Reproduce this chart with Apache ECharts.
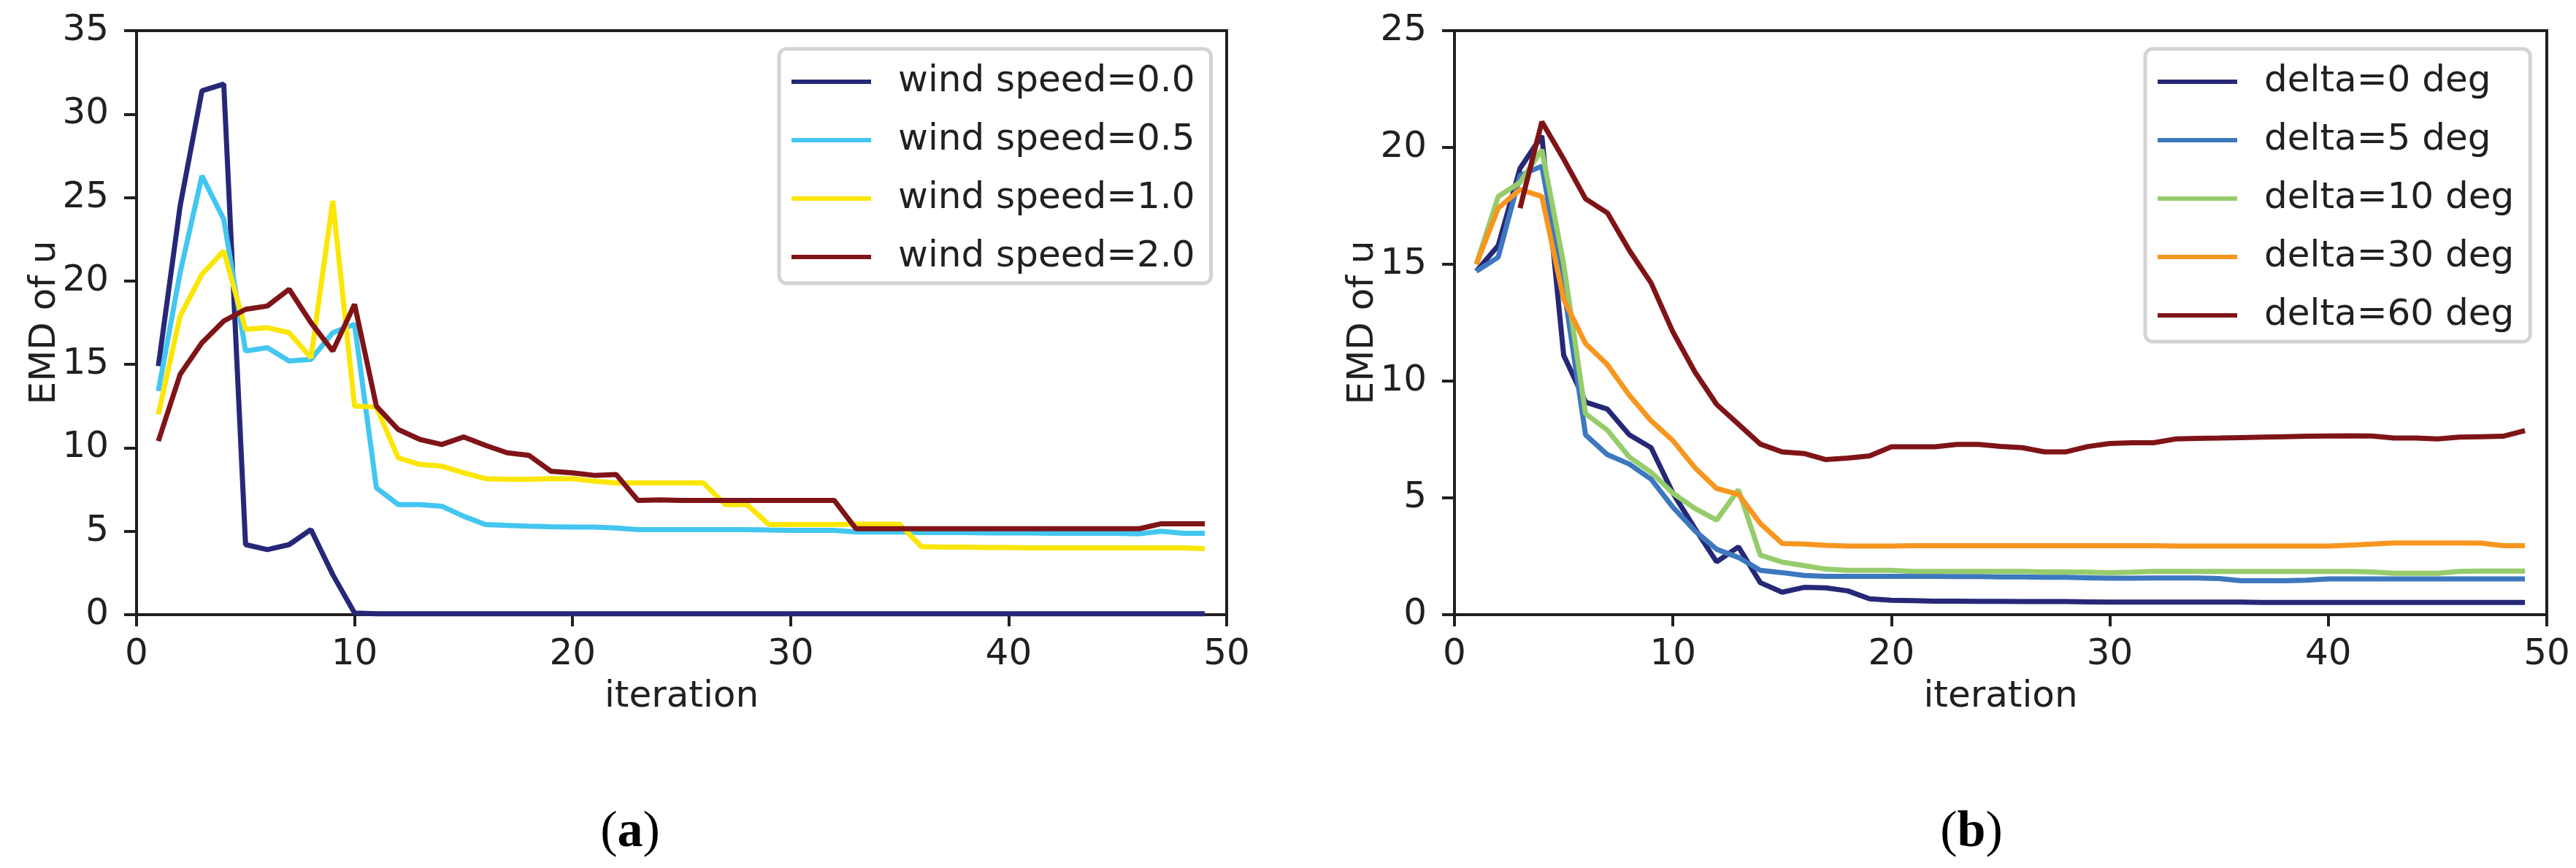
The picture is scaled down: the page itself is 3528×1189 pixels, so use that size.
<!DOCTYPE html>
<html>
<head>
<meta charset="utf-8">
<script src="https://cdn.jsdelivr.net/npm/echarts@6/dist/echarts.min.js"></script>
<style>
html, body { margin: 0; padding: 0; background: #fff; }
#chart { width: 3528px; height: 1189px; }
</style>
</head>
<body>
<div id="chart"></div>
<script>
// iterations 1..49
var iterations = [];
for (var i = 1; i <= 49; i++) iterations.push(i);

// (a) wind speed
var windNames = ['wind speed=0.0', 'wind speed=0.5', 'wind speed=1.0', 'wind speed=2.0'];
var wind00 = [14.9, 24.5, 31.4, 31.8, 4.2, 3.9, 4.2, 5.1, 2.4, 0.1,
  0.05, 0.05, 0.05, 0.05, 0.05, 0.05, 0.05, 0.05, 0.05, 0.05,
  0.05, 0.05, 0.05, 0.05, 0.05, 0.05, 0.05, 0.05, 0.05, 0.05,
  0.05, 0.05, 0.05, 0.05, 0.05, 0.05, 0.05, 0.05, 0.05, 0.05,
  0.05, 0.05, 0.05, 0.05, 0.05, 0.05, 0.05, 0.05, 0.05];
var wind05 = [13.4, 20.5, 26.3, 23.7, 15.8, 16.0, 15.2, 15.3, 16.9, 17.4,
  7.6, 6.6, 6.6, 6.5, 5.9, 5.4, 5.35, 5.3, 5.27, 5.25,
  5.25, 5.2, 5.1, 5.1, 5.1, 5.1, 5.1, 5.1, 5.07, 5.05,
  5.05, 5.05, 4.95, 4.95, 4.95, 4.92, 4.92, 4.92, 4.9, 4.9,
  4.9, 4.88, 4.88, 4.88, 4.88, 4.85, 5.0, 4.88, 4.88];
var wind10 = [12.0, 17.9, 20.4, 21.8, 17.1, 17.2, 16.9, 15.4, 24.8, 12.5,
  12.45, 9.4, 9.0, 8.9, 8.5, 8.15, 8.12, 8.12, 8.15, 8.15,
  8.0, 7.9, 7.9, 7.9, 7.9, 7.9, 6.6, 6.6, 5.4, 5.4,
  5.4, 5.4, 5.42, 5.42, 5.42, 4.08, 4.05, 4.05, 4.02, 4.02,
  4.0, 4.0, 4.0, 4.0, 4.0, 4.0, 4.0, 4.0, 3.96];
var wind20 = [10.4, 14.4, 16.3, 17.6, 18.3, 18.5, 19.5, 17.5, 15.8, 18.6,
  12.5, 11.1, 10.5, 10.2, 10.65, 10.15, 9.7, 9.55, 8.6, 8.5,
  8.35, 8.4, 6.85, 6.88, 6.85, 6.85, 6.85, 6.85, 6.85, 6.85,
  6.85, 6.85, 5.15, 5.15, 5.15, 5.15, 5.15, 5.15, 5.15, 5.15,
  5.15, 5.15, 5.15, 5.15, 5.15, 5.15, 5.45, 5.45, 5.45];

// (b) delta
var deltaNames = ['delta=0 deg', 'delta=5 deg', 'delta=10 deg', 'delta=30 deg', 'delta=60 deg'];
var delta0 = [14.7, 15.8, 19.1, 20.5, 11.1, 9.1, 8.8, 7.7, 7.15, 5.2,
  3.7, 2.26, 2.9, 1.37, 0.96, 1.17, 1.15, 1.02, 0.68, 0.62,
  0.6, 0.58, 0.58, 0.57, 0.57, 0.56, 0.56, 0.56, 0.55, 0.54,
  0.54, 0.54, 0.54, 0.54, 0.54, 0.54, 0.52, 0.52, 0.52, 0.52,
  0.52, 0.52, 0.52, 0.52, 0.52, 0.52, 0.52, 0.52, 0.52];
var delta5 = [14.7, 15.3, 18.8, 19.2, 14.0, 7.7, 6.85, 6.45, 5.8, 4.6,
  3.6, 2.8, 2.45, 1.9, 1.8, 1.68, 1.64, 1.64, 1.64, 1.64,
  1.64, 1.64, 1.63, 1.63, 1.62, 1.62, 1.6, 1.6, 1.58, 1.56,
  1.56, 1.57, 1.57, 1.57, 1.55, 1.45, 1.45, 1.45, 1.48, 1.53,
  1.53, 1.53, 1.53, 1.53, 1.53, 1.53, 1.53, 1.53, 1.53];
var delta10 = [15.0, 17.9, 18.5, 19.9, 15.0, 8.6, 7.9, 6.75, 6.1, 5.2,
  4.55, 4.05, 5.35, 2.55, 2.25, 2.1, 1.95, 1.9, 1.9, 1.9,
  1.85, 1.85, 1.85, 1.85, 1.85, 1.85, 1.83, 1.83, 1.82, 1.8,
  1.82, 1.85, 1.85, 1.85, 1.85, 1.85, 1.85, 1.85, 1.85, 1.85,
  1.85, 1.83, 1.77, 1.77, 1.77, 1.85, 1.87, 1.87, 1.87];
var delta30 = [15.0, 17.4, 18.2, 17.9, 13.5, 11.6, 10.7, 9.4, 8.3, 7.45,
  6.3, 5.4, 5.15, 3.9, 3.05, 3.02, 2.97, 2.94, 2.94, 2.94,
  2.95, 2.95, 2.95, 2.95, 2.95, 2.95, 2.95, 2.95, 2.95, 2.95,
  2.95, 2.95, 2.94, 2.94, 2.94, 2.94, 2.94, 2.94, 2.94, 2.94,
  2.98, 3.02, 3.07, 3.07, 3.07, 3.07, 3.06, 2.95, 2.95];
var delta60 = [null, null, 17.4, 21.1, 19.5, 17.8, 17.2, 15.6, 14.2, 12.1,
  10.4, 9.0, 8.15, 7.3, 6.97, 6.9, 6.64, 6.7, 6.8, 7.19,
  7.19, 7.19, 7.29, 7.29, 7.2, 7.15, 6.97, 6.97, 7.2, 7.33,
  7.36, 7.36, 7.52, 7.55, 7.56, 7.58, 7.6, 7.62, 7.64, 7.65,
  7.66, 7.65, 7.56, 7.56, 7.52, 7.6, 7.62, 7.64, 7.88];

var xTicks = [0, 10, 20, 30, 40, 50];
var windColors = ['#262877', '#43c6f0', '#fbe606', '#7f1418'];
var deltaColors = ['#262877', '#3d78bf', '#96cc6b', '#f7961f', '#7f1418'];

var ink = '#231f20';
var font = 'DejaVu Sans';

function pairs(vals) {
  var out = [];
  for (var i = 0; i < iterations.length; i++) out.push([iterations[i], vals[i]]);
  return out;
}

function xAxis(idx) {
  return {
    type: 'value', gridIndex: idx, min: xTicks[0], max: xTicks[xTicks.length - 1], interval: 10,
    name: 'iteration', nameLocation: 'middle', nameGap: 88,
    nameTextStyle: { fontFamily: font, fontSize: 50, color: ink },
    axisLine: { show: false },
    axisTick: { show: true, length: 16, lineStyle: { color: ink, width: 4 } },
    axisLabel: { margin: 30, fontFamily: font, fontSize: 50, color: ink },
    splitLine: { show: false }
  };
}
function yAxis(idx, max) {
  return {
    type: 'value', gridIndex: idx, min: 0, max: max, interval: 5,
    name: 'EMD of u', nameLocation: 'middle', nameGap: 100, nameRotate: 90,
    nameMoveOverlap: false,
    nameTextStyle: { fontFamily: font, fontSize: 50, color: ink },
    axisLine: { show: false },
    axisTick: { show: true, length: 17, lineStyle: { color: ink, width: 4 } },
    axisLabel: { margin: 38, fontFamily: font, fontSize: 50, color: ink },
    splitLine: { show: false }
  };
}
function legend(names, left) {
  return {
    data: names, orient: 'vertical', left: left, top: 67,
    icon: 'rect', itemWidth: 109, itemHeight: 6, itemGap: 30,
    padding: [20, 22, 11, 17],
    borderColor: '#d4d4d6', borderWidth: 5, borderRadius: 10,
    backgroundColor: '#fff',
    textStyle: { fontFamily: font, fontSize: 50, color: ink, padding: [0, 0, 0, 32] }
  };
}

var series = [];
var windVals = [wind00, wind05, wind10, wind20];
for (var k = 0; k < windVals.length; k++) {
  series.push({ name: windNames[k], type: 'line', xAxisIndex: 0, yAxisIndex: 0,
    data: pairs(windVals[k]), showSymbol: false, color: windColors[k],
    lineStyle: { width: 7, color: windColors[k] } });
}
var deltaVals = [delta0, delta5, delta10, delta30, delta60];
for (var k = 0; k < deltaVals.length; k++) {
  series.push({ name: deltaNames[k], type: 'line', xAxisIndex: 1, yAxisIndex: 1,
    data: pairs(deltaVals[k]), showSymbol: false, color: deltaColors[k],
    lineStyle: { width: 7, color: deltaColors[k] } });
}

var capRich = {
  p: { fontFamily: 'Liberation Serif', fontSize: 70, color: ink },
  b: { fontFamily: 'Liberation Serif', fontSize: 70, fontWeight: 'bold', color: ink }
};

var option = {
  animation: false,
  backgroundColor: '#fff',
  grid: [
    { left: 187, top: 42, width: 1493, height: 800, show: true, borderColor: ink, borderWidth: 4 },
    { left: 1992, top: 42, width: 1496, height: 800, show: true, borderColor: ink, borderWidth: 4 }
  ],
  xAxis: [xAxis(0), xAxis(1)],
  yAxis: [yAxis(0, 35), yAxis(1, 25)],
  legend: [legend(windNames, 1067), legend(deltaNames, 2938)],
  series: series,
  graphic: [
    { type: 'text', x: 863, y: 1141, style: { text: '{p|(}{b|a}{p|)}', rich: capRich, align: 'center', verticalAlign: 'middle' } },
    { type: 'text', x: 2700, y: 1141, style: { text: '{p|(}{b|b}{p|)}', rich: capRich, align: 'center', verticalAlign: 'middle' } }
  ]
};

var myChart = echarts.init(document.getElementById('chart'), null, { renderer: 'canvas' });
myChart.setOption(option);
</script>
</body>
</html>
